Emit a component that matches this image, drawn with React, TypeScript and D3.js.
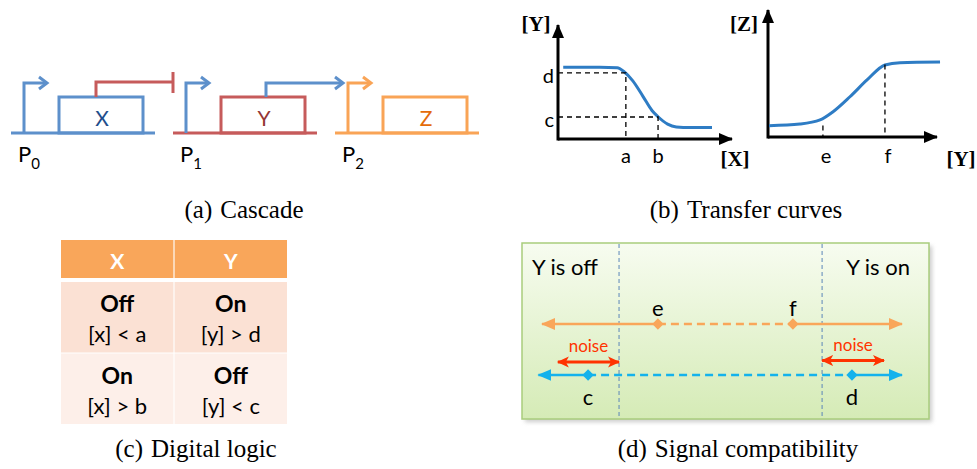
import React from 'react';
import * as d3 from 'd3';

const W = 977;
const H = 469;

// (a) cascade
const geneNames = ['X', 'Y', 'Z'];
const promoterNames = ['0', '1', '2'];

// (b) transfer curves (0-100 units on each axis)
const repressorCurve = [[3, 63], [24, 63], [34, 62.5], [38, 59], [43, 51], [49, 37], [54, 25], [57.5, 19.5], [63, 13], [68, 10.6], [76, 10], [88.5, 10]];
const activatorCurve = [[0.6, 8.9], [18.9, 10.2], [30.8, 13.4], [38.5, 19.9], [48.5, 31.7], [58.6, 44.9], [69.2, 56.7], [78.1, 58.5], [101.8, 59]];
const inputTickLabels = ['a', 'b'];
const inputTickValues = [39, 57.5];
const outputTickLabels = ['d', 'c'];
const outputTickValues = [58, 19.3];
const zTickLabels = ['e', 'f'];
const zTickValues = [32.5, 69.2];

// (c) digital logic table
const tableHeader = ['X', 'Y'];
const tableStates = [['Off', 'On'], ['On', 'Off']];
const tableConditions = [['[x] < a', '[y] > d'], ['[x] > b', '[y] < c']];

// (d) signal compatibility (0-100 along the line)
const zLevelLabels = ['e', 'f'];
const zLevelValues = [32.2, 69.7];
const yLevelLabels = ['c', 'd'];
const yLevelValues = [12.8, 86.1];
const regionBounds = [21.4, 77.8];
const regionLabels = ['Y is off', 'Y is on'];
const noiseRanges = [[4.4, 21.4], [77.8, 95]];

const captions = ['(a)', '(b)', '(c)', '(d)'];
const captionTexts = ['Cascade', 'Transfer curves', 'Digital logic', 'Signal compatibility'];

const SANS = 'Lato, "Open Sans", sans-serif';
const SERIF = '"Liberation Serif", "Times New Roman", serif';

const BLUE = '#5d90cb';
const RED = '#c65b5b';
const ORANGE = '#f9a456';

function Cascade() {
  const unitX = d3.scaleLinear().domain([0, 2]).range([11, 335]);
  const base = 133, boxTop = 97, promTop = 83;
  const lineCol = [BLUE, RED, ORANGE];
  const promCol = [BLUE, BLUE, ORANGE];
  const textCol = ['#1f4e8c', '#943634', '#e46c0a'];
  const chevron = (x: number, y: number, c: string) => (
    <path d={`M${x - 8},${y - 6}L${x},${y}L${x - 8},${y + 6}`} fill="none" stroke={c} strokeWidth={3} />
  );
  return (
    <g>
      {geneNames.map((g, i) => {
        const o = unitX(i);
        return (
          <g key={g}>
            <line x1={o} x2={o + 144} y1={base} y2={base} stroke={lineCol[i]} strokeWidth={3} />
            <path d={`M${o + 13},${base}V${promTop}H${o + 36}`} fill="none" stroke={promCol[i]} strokeWidth={3} />
            {chevron(o + 36, promTop, promCol[i])}
            <rect x={o + 48} y={boxTop} width={84} height={base - boxTop} fill="none" stroke={lineCol[i]} strokeWidth={3} />
            <text x={o + 91} y={126} textAnchor="middle" fontFamily={SANS} fontSize={21} fill={textCol[i]}>{g}</text>
            <text x={o + 7} y={162} fontFamily={SANS} fontSize={22}>P<tspan dy={7} fontSize={15}>{promoterNames[i]}</tspan></text>
          </g>
        );
      })}
      {/* X represses P1 */}
      <path d={`M${unitX(0) + 85},${boxTop}V82H${unitX(1)}`} fill="none" stroke={RED} strokeWidth={3} />
      <line x1={unitX(1)} x2={unitX(1)} y1={72} y2={93} stroke={RED} strokeWidth={3} />
      {/* Y activates P2 */}
      <path d={`M${unitX(1) + 93},${boxTop}V83H${unitX(2) + 8}`} fill="none" stroke={BLUE} strokeWidth={3} />
      {chevron(unitX(2) + 8, 83, BLUE)}
    </g>
  );
}

function TransferCurves() {
  const xL = d3.scaleLinear().domain([0, 100]).range([558, 732]);
  const yL = d3.scaleLinear().domain([0, 100]).range([139, 25]);
  const xR = d3.scaleLinear().domain([0, 100]).range([768, 937]);
  const yR = d3.scaleLinear().domain([0, 100]).range([137, 10]);
  const lineL = d3.line<number[]>().x(d => xL(d[0])).y(d => yL(d[1])).curve(d3.curveMonotoneX);
  const lineR = d3.line<number[]>().x(d => xR(d[0])).y(d => yR(d[1])).curve(d3.curveMonotoneX);
  const curveCol = '#2e7cc4';
  const dash = '5,4';
  return (
    <g>
      <line x1={xL(0)} x2={xL(100)} y1={yL(0)} y2={yL(0)} stroke="#000" strokeWidth={3} markerEnd="url(#axHead)" />
      <line x1={xL(0)} x2={xL(0)} y1={yL(0) + 1.5} y2={yL(100)} stroke="#000" strokeWidth={3} markerEnd="url(#axHead)" />
      <path d={lineL(repressorCurve) || ''} fill="none" stroke={curveCol} strokeWidth={3} />
      {/* d: y level at a, c: y level at b */}
      {outputTickValues.map((v, i) => (
        <g key={outputTickLabels[i]}>
          <path d={`M${xL(0)},${yL(v)}H${xL(inputTickValues[i])}V${yL(0)}`} fill="none" stroke="#000" strokeWidth={1.3} strokeDasharray={dash} />
          <text x={554} y={yL(v) + 10} textAnchor="end" fontFamily={SANS} fontSize={20}>{outputTickLabels[i]}</text>
        </g>
      ))}
      {inputTickLabels.map((t, i) => (
        <text key={t} x={xL(inputTickValues[i])} y={163} textAnchor="middle" fontFamily={SANS} fontSize={20}>{t}</text>
      ))}
      <text x={536} y={31} textAnchor="middle" fontFamily={SERIF} fontWeight="bold" fontSize={21}>[Y]</text>
      <text x={735} y={166} textAnchor="middle" fontFamily={SERIF} fontWeight="bold" fontSize={21}>[X]</text>

      <line x1={xR(0)} x2={xR(100)} y1={yR(0)} y2={yR(0)} stroke="#000" strokeWidth={3} markerEnd="url(#axHead)" />
      <line x1={xR(0)} x2={xR(0)} y1={yR(0) + 1.5} y2={yR(100)} stroke="#000" strokeWidth={3} markerEnd="url(#axHead)" />
      <path d={lineR(activatorCurve) || ''} fill="none" stroke={curveCol} strokeWidth={3} />
      <line x1={xR(zTickValues[0])} x2={xR(zTickValues[0])} y1={yR(9)} y2={yR(0)} stroke="#000" strokeWidth={1.3} strokeDasharray={dash} />
      <line x1={xR(zTickValues[1])} x2={xR(zTickValues[1])} y1={yR(57)} y2={yR(0)} stroke="#000" strokeWidth={1.3} strokeDasharray={dash} />
      {zTickLabels.map((t, i) => (
        <text key={t} x={xR(zTickValues[i]) + 3} y={163} textAnchor="middle" fontFamily={SANS} fontSize={20}>{t}</text>
      ))}
      <text x={744} y={31} textAnchor="middle" fontFamily={SERIF} fontWeight="bold" fontSize={21}>[Z]</text>
      <text x={961} y={166} textAnchor="middle" fontFamily={SERIF} fontWeight="bold" fontSize={21}>[Y]</text>
    </g>
  );
}

function DigitalLogic() {
  const col = d3.scaleBand<number>().domain([0, 1]).range([61, 287]).paddingInner(0.01);
  const row = d3.scaleBand<number>().domain([0, 1]).range([282, 424]).paddingInner(0.014);
  const rowFill = ['#fbe1d4', '#fdefe9'];
  return (
    <g>
      {tableHeader.map((h, j) => (
        <g key={h}>
          <rect x={col(j)} y={240} width={col.bandwidth()} height={38} fill="#f9a65a" />
          <text x={(col(j) || 0) + col.bandwidth() / 2} y={269} textAnchor="middle" fontFamily={SANS} fontWeight="bold" fontSize={21} fill="#fff">{h}</text>
        </g>
      ))}
      {tableStates.map((r, i) => r.map((s, j) => {
        const cx = (col(j) || 0) + col.bandwidth() / 2;
        const y0 = row(i) || 0;
        return (
          <g key={`${i}-${j}`}>
            <rect x={col(j)} y={y0} width={col.bandwidth()} height={row.bandwidth()} fill={rowFill[i]} />
            <text x={cx} y={y0 + 30} textAnchor="middle" fontFamily={SANS} fontWeight="bold" fontSize={23}>{s}</text>
            <text x={cx} y={y0 + 60} textAnchor="middle" fontFamily={SANS} fontSize={22}>{tableConditions[i][j]}</text>
          </g>
        );
      }))}
    </g>
  );
}

function SignalCompat() {
  const sx = d3.scaleLinear().domain([0, 100]).range([542, 902]);
  const top = 243, bottom = 419;
  const yZ = 324, yY = 375, yN = 362;
  const diamond = d3.symbol().type(d3.symbolSquare).size(64)() || '';
  const ORG = '#f9a65a';
  const CYAN = '#14b2ec';
  const NOISE = '#ff3300';
  return (
    <g>
      <rect x={525} y={246} width={407} height={176} fill="#999" opacity={0.5} filter="url(#blur)" />
      <rect x={522} y={top} width={407} height={bottom - top} fill="url(#greenGrad)" stroke="#a9cd7c" strokeWidth={1.5} />
      {regionBounds.map((b, i) => (
        <line key={i} x1={sx(b)} x2={sx(b)} y1={top + 1} y2={bottom - 1} stroke="#5b86b8" strokeWidth={1} strokeDasharray="4,3" />
      ))}
      <text x={532} y={275} fontFamily={SANS} fontSize={22}>{regionLabels[0]}</text>
      <text x={910} y={275} textAnchor="end" fontFamily={SANS} fontSize={22}>{regionLabels[1]}</text>

      {/* Z response line */}
      <line x1={sx(zLevelValues[0])} x2={sx(0)} y1={yZ} y2={yZ} stroke={ORG} strokeWidth={2.5} markerEnd="url(#orgHead)" />
      <line x1={sx(zLevelValues[0])} x2={sx(zLevelValues[1])} y1={yZ} y2={yZ} stroke={ORG} strokeWidth={2.5} strokeDasharray="8,5" />
      <line x1={sx(zLevelValues[1])} x2={sx(100)} y1={yZ} y2={yZ} stroke={ORG} strokeWidth={2.5} markerEnd="url(#orgHead)" />
      {zLevelValues.map((v, i) => (
        <g key={zLevelLabels[i]}>
          <path d={diamond} transform={`translate(${sx(v)},${yZ}) rotate(45)`} fill={ORG} />
          <text x={sx(v)} y={316} textAnchor="middle" fontFamily={SANS} fontSize={22}>{zLevelLabels[i]}</text>
        </g>
      ))}

      {/* Y output line */}
      <line x1={sx(yLevelValues[0])} x2={sx(-1)} y1={yY} y2={yY} stroke={CYAN} strokeWidth={2.5} markerEnd="url(#cyanHead)" />
      <line x1={sx(yLevelValues[0])} x2={sx(yLevelValues[1])} y1={yY} y2={yY} stroke={CYAN} strokeWidth={2.5} strokeDasharray="8,5" />
      <line x1={sx(yLevelValues[1])} x2={sx(100)} y1={yY} y2={yY} stroke={CYAN} strokeWidth={2.5} markerEnd="url(#cyanHead)" />
      {yLevelValues.map((v, i) => (
        <g key={yLevelLabels[i]}>
          <path d={diamond} transform={`translate(${sx(v)},${yY}) rotate(45)`} fill={CYAN} />
          <text x={sx(v)} y={405} textAnchor="middle" fontFamily={SANS} fontSize={22}>{yLevelLabels[i]}</text>
        </g>
      ))}

      {noiseRanges.map((r, i) => (
        <g key={i}>
          <line x1={sx(r[0])} x2={sx(r[1])} y1={yN - i * 1.5} y2={yN - i * 1.5} stroke={NOISE} strokeWidth={3}
            markerStart="url(#redHead)" markerEnd="url(#redHead)" />
          <text x={(sx(r[0]) + sx(r[1])) / 2} y={352 - i * 1.5} textAnchor="middle" fontFamily={SANS} fontSize={17} fill={NOISE}>noise</text>
        </g>
      ))}
    </g>
  );
}

export default function App() {
  const captionX = [244, 746, 196, 738];
  const captionY = [218, 218, 457, 457];
  return (
    <svg width={W} height={H} style={{ position: 'absolute', left: 0, top: 0, background: '#fff' }}>
      <defs>
        <marker id="axHead" markerUnits="userSpaceOnUse" markerWidth={14} markerHeight={12} refX={13} refY={6} orient="auto">
          <path d="M0,0L14,6L0,12z" fill="#000" />
        </marker>
        <marker id="orgHead" markerUnits="userSpaceOnUse" markerWidth={14} markerHeight={12} refX={13} refY={6} orient="auto-start-reverse">
          <path d="M0,0L14,6L0,12z" fill="#f9a65a" />
        </marker>
        <marker id="cyanHead" markerUnits="userSpaceOnUse" markerWidth={14} markerHeight={12} refX={13} refY={6} orient="auto-start-reverse">
          <path d="M0,0L14,6L0,12z" fill="#14b2ec" />
        </marker>
        <marker id="redHead" markerUnits="userSpaceOnUse" markerWidth={12} markerHeight={12} refX={11} refY={6} orient="auto-start-reverse">
          <path d="M0,0.5L12,6L0,11.5L3,6z" fill="#ff3300" />
        </marker>
        <linearGradient id="greenGrad" x1="0" y1="0" x2="0" y2="1">
          <stop offset="0" stopColor="#f7fcf0" />
          <stop offset="1" stopColor="#d5ebb6" />
        </linearGradient>
        <filter id="blur" x="-5%" y="-5%" width="110%" height="110%">
          <feGaussianBlur stdDeviation={2} />
        </filter>
      </defs>
      <Cascade />
      <TransferCurves />
      <DigitalLogic />
      <SignalCompat />
      {captions.map((c, i) => (
        <text key={c} x={captionX[i]} y={captionY[i]} textAnchor="middle" fontFamily={SERIF} fontSize={25}>
          {c}<tspan dx={8}>{captionTexts[i]}</tspan>
        </text>
      ))}
    </svg>
  );
}
